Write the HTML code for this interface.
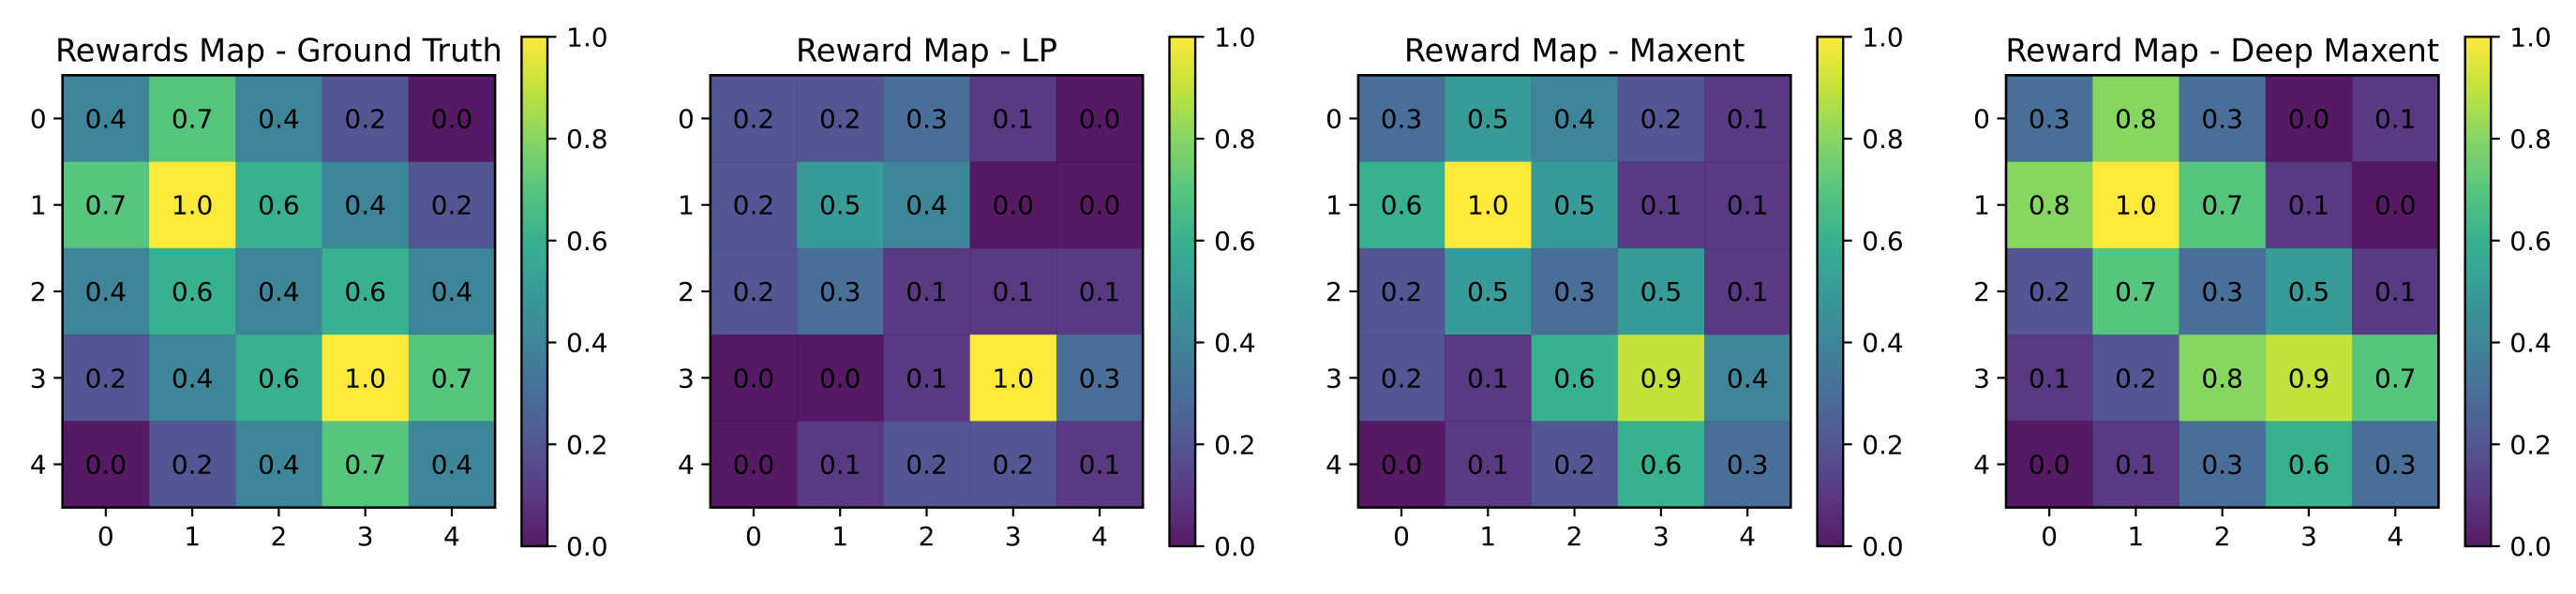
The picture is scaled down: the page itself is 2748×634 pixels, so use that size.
<!DOCTYPE html>
<html><head><meta charset="utf-8"><style>
html,body{margin:0;padding:0;background:#fff;}
svg{display:block;font-family:"DejaVu Sans","Liberation Sans",sans-serif;}
</style></head><body>
<svg id="fig" width="2748" height="634" viewBox="0 0 2748 634" xmlns="http://www.w3.org/2000/svg">
<defs>
<linearGradient id="vir" x1="0" y1="1" x2="0" y2="0">
<stop offset="0" stop-color="#440154"/><stop offset="0.1" stop-color="#482475"/><stop offset="0.2" stop-color="#414487"/><stop offset="0.3" stop-color="#355f8d"/><stop offset="0.4" stop-color="#2a788e"/><stop offset="0.5" stop-color="#21918c"/><stop offset="0.6" stop-color="#22a884"/><stop offset="0.7" stop-color="#44bf70"/><stop offset="0.8" stop-color="#7ad151"/><stop offset="0.9" stop-color="#bddf26"/><stop offset="1" stop-color="#fde725"/>
</linearGradient>
</defs>
</svg>
<script>
const titles = ["Rewards Map - Ground Truth","Reward Map - LP","Reward Map - Maxent","Reward Map - Deep Maxent"];
const rowLabels = ["0","1","2","3","4"];
const colLabels = ["0","1","2","3","4"];
const cbTicks = [0.0,0.2,0.4,0.6,0.8,1.0];
const gtValues = [[0.4,0.7,0.4,0.2,0.0],[0.7,1.0,0.6,0.4,0.2],[0.4,0.6,0.4,0.6,0.4],[0.2,0.4,0.6,1.0,0.7],[0.0,0.2,0.4,0.7,0.4]];
const lpValues = [[0.2,0.2,0.3,0.1,0.0],[0.2,0.5,0.4,0.0,0.0],[0.2,0.3,0.1,0.1,0.1],[0.0,0.0,0.1,1.0,0.3],[0.0,0.1,0.2,0.2,0.1]];
const maxentValues = [[0.3,0.5,0.4,0.2,0.1],[0.6,1.0,0.5,0.1,0.1],[0.2,0.5,0.3,0.5,0.1],[0.2,0.1,0.6,0.9,0.4],[0.0,0.1,0.2,0.6,0.3]];
const deepValues = [[0.3,0.8,0.3,0.0,0.1],[0.8,1.0,0.7,0.1,0.0],[0.2,0.7,0.3,0.5,0.1],[0.1,0.2,0.8,0.9,0.7],[0.0,0.1,0.3,0.6,0.3]];
const allValues = [gtValues,lpValues,maxentValues,deepValues];

const VIR = ["#440154","#482475","#414487","#355f8d","#2a788e","#21918c","#22a884","#44bf70","#7ad151","#bddf26","#fde725"];
function hex(h){return [1,3,5].map(i=>parseInt(h.substr(i,2),16));}
function viridis(v){
  v=Math.max(0,Math.min(1,v));const p=v*10,i=Math.min(9,Math.floor(p)),f=p-i;
  const a=hex(VIR[i]),b=hex(VIR[i+1]);
  return "rgb("+a.map((c,k)=>Math.round(c+(b[k]-c)*f)).join(",")+")";
}
const NS="http://www.w3.org/2000/svg";
const svg=document.getElementById('fig');
function mk(tag,attrs,parent){const e=document.createElementNS(NS,tag);for(const k in attrs)e.setAttribute(k,attrs[k]);(parent||svg).appendChild(e);return e;}

const AX_LEFT0=66.7, PANEL_STEP=691.1, AX_TOP=80.3, AX_SIZE=461.4, N=5;
const CB_GAP=28.3, CB_W=27.6, CB_TOP=39.3, CB_BOT=583;
const xScale=(left,j)=>left+(j+0.5)*AX_SIZE/N;
const yScale=i=>AX_TOP+(i+0.5)*AX_SIZE/N;
const cbScale=v=>CB_BOT-(CB_BOT-CB_TOP)*v;

allValues.forEach((vals,p)=>{
  const left=AX_LEFT0+p*PANEL_STEP, cell=AX_SIZE/N;
  const g=mk('g',{});
  
  
  const t=mk('text',{x:left+AX_SIZE/2,y:65.5,'text-anchor':'middle','font-size':33.6,fill:'#000'},g);
  t.textContent=titles[p];
  
  
  vals.forEach((row,i)=>row.forEach((v,j)=>{
    const r=mk('rect',{x:xScale(left,j)-cell/2,y:yScale(i)-cell/2,width:cell+0.5,height:cell+0.5,fill:viridis(v),'fill-opacity':0.9},g);
    
    
    const tx=mk('text',{x:xScale(left,j),y:yScale(i)+10,'text-anchor':'middle','font-size':28,fill:'#000'},g);
    tx.textContent=v.toFixed(1);
    
    
  }));
  const fr=mk('rect',{x:left,y:AX_TOP,width:AX_SIZE,height:AX_SIZE,fill:'none',stroke:'#000','stroke-width':2.6},g);
  
  
  rowLabels.forEach((lab,i)=>{
    mk('line',{x1:left-9.5,x2:left,y1:yScale(i),y2:yScale(i),stroke:'#000','stroke-width':2.2},g);
    const l=mk('text',{x:left-17,y:yScale(i)+10,'text-anchor':'end','font-size':28},g);
    l.textContent=lab;
    
    
  });
  colLabels.forEach((lab,j)=>{
    mk('line',{x1:xScale(left,j),x2:xScale(left,j),y1:AX_TOP+AX_SIZE,y2:AX_TOP+AX_SIZE+9.5,stroke:'#000','stroke-width':2.2},g);
    const l=mk('text',{x:xScale(left,j),y:582,'text-anchor':'middle','font-size':28},g);
    l.textContent=lab;
    
    
  });
  const cbx=left+AX_SIZE+CB_GAP;
  const cb=mk('rect',{x:cbx,y:CB_TOP,width:CB_W,height:CB_BOT-CB_TOP,fill:'url(#vir)','fill-opacity':0.9,stroke:'#000','stroke-width':2.4},g);
  
  
  cbTicks.forEach(v=>{
    mk('line',{x1:cbx+CB_W,x2:cbx+CB_W+9.5,y1:cbScale(v),y2:cbScale(v),stroke:'#000','stroke-width':2.2},g);
    const l=mk('text',{x:cbx+CB_W+20,y:cbScale(v)+10,'font-size':28},g);
    l.textContent=v.toFixed(1);
    
    
  });
});
</script>
</body></html>
